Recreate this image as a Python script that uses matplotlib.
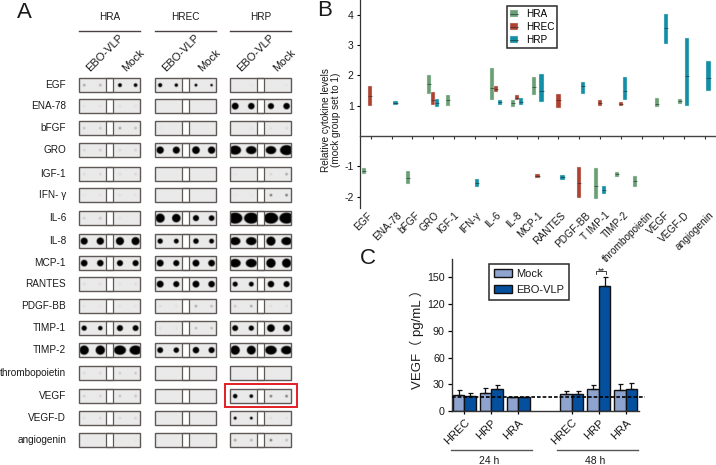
import numpy as np
import matplotlib
matplotlib.use('Agg')
import matplotlib.pyplot as plt
from matplotlib.lines import Line2D
from matplotlib.patches import Patch, Rectangle
from matplotlib.legend_handler import HandlerTuple

plt.rcParams['font.family'] = ['Liberation Sans', 'Noto Sans CJK SC', 'DejaVu Sans']

W, H = 716, 465

# panel A: dot signal per row, 4 dots per cell line (below 1 = faint spot, from 1 up = black dot radius)
cytokines = ['EGF', 'ENA-78', 'bFGF', 'GRO', 'IGF-1', 'IFN- γ', 'IL-6', 'IL-8', 'MCP-1', 'RANTES',
             'PDGF-BB', 'TIMP-1', 'TIMP-2', 'thrombopoietin', 'VEGF', 'VEGF-D', 'angiogenin']
blot_hra = [[.35, .3, 1.9, 1.8], [.05, .05, .06, .06], [.2, .2, .4, .25], [.12, .18, .1, .12],
            [.08, .1, .08, .1], [.03, .05, .05, .05], [.15, .2, .05, 0], [3.5, 3.6, 4, 4],
            [3.3, 3.2, 3, 3], [.08, .06, .05, .08], [.05, .03, .05, .05], [2.6, 2.2, 3, 2.9],
            [4.6, 4.6, 5.6, 5.6], [.1, .1, .15, .18], [.15, .12, .2, .2], [.06, .1, .1, .12],
            [0, 0, .02, .03]]
blot_hrec = [[2, 1.7, 1.4, 1.2], [0, 0, 0, 0], [.03, 0, 0, 0], [3.6, 3.5, 3.8, 3.6],
             [0, 0, 0, 0], [0, 0, 0, 0], [4.5, 4.2, 3, 2.8], [2.6, 2.4, 2.7, 2.4],
             [3.4, 3, 3.4, 3.3], [3.4, 3, 3.4, 3.2], [.08, .05, .35, .25], [.06, .04, .25, .25],
             [2.9, 2.7, 3.2, 3], [0, 0, 0, 0], [0, 0, 0, 0], [0, 0, 0, 0], [0, 0, 0, 0]]
blot_hrp = [[0, .03, 0, .03], [3.4, 3.2, 3, 3.2], [0, .05, .05, .1], [5.5, 5, 5, 6],
            [.03, 0, .1, .35], [.03, .03, .6, .6], [6.5, 6.5, 6.5, 6.5], [5, 5, 4.5, 5],
            [5.2, 5.2, 4.6, 4.5], [2.5, 2.4, 3.2, 3], [.2, .35, .06, .08], [2.9, 2.6, 3.8, 3.5],
            [4.6, 4.4, 5.4, 5.2], [0, 0, 0, 0], [2.2, 1.8, .6, .6], [1.5, 1.4, .06, .06],
            [.4, .3, .6, .25]]

# panel B: floating boxes, (category index, low, median, high)
b_labels = ['EGF', 'ENA-78', 'bFGF', 'GRO', 'IGF-1', 'IFN-γ', 'IL-6', 'IL-8', 'MCP-1', 'RANTES',
            'PDGF-BB', 'T IMP-1', 'TIMP-2', 'thrombopoietin', 'VEGF', 'VEGF-D', 'angiogenin']
hra_boxes = [(0, -1.27, -1.15, -1.05), (2, -1.6, -1.4, -1.14), (3, 1.4, 1.72, 2.02), (4, 1.0, 1.18, 1.34),
             (6, 1.2, 1.57, 2.25), (7, .97, 1.1, 1.2), (8, 1.34, 1.62, 1.96), (11, -2.07, -1.66, -1.07),
             (12, -1.35, -1.26, -1.18), (13, -1.67, -1.5, -1.32), (14, .97, 1.05, 1.24), (15, 1.05, 1.14, 1.23)]
hrec_boxes = [(0, 1.0, 1.33, 1.66), (3, 1.02, 1.2, 1.44), (6, 1.46, 1.55, 1.64), (7, 1.2, 1.27, 1.34),
              (8, -1.39, -1.33, -1.27), (9, .92, 1.2, 1.38), (10, -2.03, -1.56, -1.01), (11, 1.0, 1.1, 1.2),
              (12, 1.0, 1.05, 1.11)]
hrp_boxes = [(1, 1.04, 1.1, 1.16), (3, .97, 1.1, 1.22), (5, -1.68, -1.55, -1.43), (6, 1.03, 1.12, 1.2),
             (7, 1.03, 1.13, 1.24), (8, 1.11, 1.47, 2.04), (9, -1.44, -1.36, -1.29), (10, 1.38, 1.65, 1.77),
             (11, -1.91, -1.77, -1.64), (12, 1.18, 1.47, 1.96), (14, 3.05, 3.55, 4.04), (15, 1.0, 1.97, 3.24),
             (16, 1.48, 1.9, 2.48)]

# panel C
c_groups = ['HREC', 'HRP', 'HRA', 'HREC', 'HRP', 'HRA']
mock_vals = [18, 20, 16, 19, 25, 24]
mock_err = [6, 6, 0, 4, 4, 7]
ebo_vals = [17, 25, 16, 19, 140, 25]
ebo_err = [3, 4, 0, 4, 10, 7]
baseline = 16

fig = plt.figure(figsize=(W / 100, H / 100), dpi=100)


def px_axes(left, top, right, bottom, **kw):
    return fig.add_axes([left / W, 1 - bottom / H, (right - left) / W, (bottom - top) / H], **kw)


# page axes in pixels, holds panel A and the panel letters
page = px_axes(0, 0, W, H)
page.set_axis_off()

row_y = [85, 106, 128, 150, 174, 195, 218, 241, 263, 284, 306, 328, 350, 373, 396, 418, 440]
box_left = {'HRA': 78.5, 'HREC': 154.5, 'HRP': 229.5}
box_w, box_h = 61.5, 14
gap_x, gap_w = 27, 7.5
dot_x = [5, 21, 40.5, 56]
edge_col = '#5e5856'
text_col = '#1a1a1a'
yy, xx = np.mgrid[0:box_h * 4, 0:int(box_w * 4)]


def blot_image(signals):
    # soft round spots on a light grey strip
    img = np.full(xx.shape, 0.915)
    for dx, s in zip(dot_x, signals):
        if s == 0:
            continue
        radius = 1.3 if s < 1 else s
        strength = 0.8 * s if s < 1 else 1.0
        dist = np.hypot(xx / 4 - dx, yy / 4 - box_h / 2)
        if s > 4.9:
            # big spots smear sideways and flatten against the strip
            radius = s - 1.0
            dist = np.hypot((xx / 4 - dx) / 1.3, yy / 4 - box_h / 2)
        blob = np.clip((radius + 0.6 - dist) / 1.2, 0, 1)
        img = np.minimum(img, 0.915 - 0.91 * strength * blob)
    return np.clip(img, 0, 1)


for name, rows in [('HRA', blot_hra), ('HREC', blot_hrec), ('HRP', blot_hrp)]:
    x0 = box_left[name]
    for y, signals in zip(row_y, rows):
        page.imshow(blot_image(signals), cmap='gray', vmin=0, vmax=1, aspect='auto',
                    extent=(x0, x0 + box_w, y + box_h / 2, y - box_h / 2), interpolation='bilinear')
        page.add_patch(Rectangle((x0 + gap_x, y - box_h / 2), gap_w, box_h, fc='white', ec=edge_col, lw=0.9, zorder=3))
        page.add_patch(Rectangle((x0, y - box_h / 2), box_w, box_h, fc='none', ec=edge_col, lw=1.0, zorder=3))
    page.plot([x0, x0 + box_w], [31, 31], color='#4a4240', lw=1.0)
    page.text(x0 + 31, 17.5, name, ha='center', va='center', fontsize=7.2, color=text_col)
    page.text(x0 + 13, 73, 'EBO-VLP', rotation=45, ha='left', va='bottom', rotation_mode='anchor',
              fontsize=8, color=text_col)
    page.text(x0 + 49, 73, 'Mock', rotation=45, ha='left', va='bottom', rotation_mode='anchor',
              fontsize=8, color=text_col)

for y, label in zip(row_y, cytokines):
    page.text(66, y - 0.5, label, ha='right', va='center', fontsize=7.2, color=text_col)

page.add_patch(Rectangle((224.5, 384), 72.5, 23, fc='none', ec='#e31e26', lw=1.4, zorder=4))
page.text(16.5, 13, 'A', fontsize=16, ha='left', va='center', color=text_col)
page.text(317, 10, 'B', fontsize=16, ha='left', va='center', color=text_col)
page.text(360, 258, 'C', fontsize=16, ha='left', va='center', color=text_col)
page.plot([451, 531.7], [450, 450], color='#555555', lw=1.0)
page.plot([557, 638], [450, 450], color='#555555', lw=1.0)
page.text(489, 460.5, '24 h', ha='center', va='center', fontsize=7.5, color=text_col)
page.text(595, 460.5, '48 h', ha='center', va='center', fontsize=7.5, color=text_col)
page.set_xlim(0, W)
page.set_ylim(H, 0)

# panel B
ax_b = px_axes(360, 0, 716, 208)
ax_b.patch.set_alpha(0)
ax_b.set_xlim(-0.51, 16.55)
ax_b.set_ylim(-2.376, 4.49)

series_b = [('HRA', hra_boxes, '#6a9f76', -0.19), ('HREC', hrec_boxes, '#b0402f', 0.0), ('HRP', hrp_boxes, '#128fa6', 0.19)]
# a few boxes sit off the regular dodge in the figure
nudge = {('HRA', 0): -0.11, ('HRA', 4): -0.11, ('HRA', 13): -0.16, ('HRA', 14): -0.07,
         ('HREC', 0): -0.05, ('HRP', 5): -0.08, ('HRP', 14): -0.05, ('HRP', 15): -0.04}
bw_b = 0.2
for name, boxes, colour, dodge in series_b:
    for cat, low, med, high in boxes:
        xpos = cat + dodge + nudge.get((name, cat), 0)
        ax_b.bar(xpos, high - low, bottom=low, width=bw_b, color=colour, edgecolor='#dfe8e2', linewidth=0.3, zorder=2)
        ax_b.hlines(med, xpos - bw_b / 2, xpos + bw_b / 2, color='#1c2a2a', lw=0.4, zorder=3)

for side in ['top', 'right']:
    ax_b.spines[side].set_visible(False)
ax_b.spines['bottom'].set_position(('data', 0))
ax_b.spines['bottom'].set_color('#444444')
ax_b.spines['bottom'].set_linewidth(1.0)
ax_b.spines['left'].set_color('#333333')
ax_b.spines['left'].set_linewidth(0.9)
ax_b.set_xticks(range(17))
ax_b.set_xticklabels([])
ax_b.tick_params(axis='x', length=2.2, width=0.8, color='#333333', direction='out')
ax_b.set_yticks([-2, -1, 1, 2, 3, 4])
ax_b.tick_params(axis='y', length=2.5, width=0.8, labelsize=7.5, pad=2, labelcolor=text_col)
ax_b.set_yticklabels(['-2', '-1', '1', '2', '3', '4'])

# small shifts of the slanted labels along the axis, as drawn
label_shift = [-.16, .27, .13, .03, 0, .03, 0, .03, .03, .08, .27, .24, .11, .3, .11, .06, .18]
for i, label in enumerate(b_labels):
    ax_b.annotate(label, xy=(i + label_shift[i], 0), xycoords=('data', 'axes fraction'), xytext=(0, -1.5),
                  textcoords='offset points', rotation=45, ha='right', va='top', rotation_mode='anchor',
                  fontsize=7.3, color=text_col, annotation_clip=False)
page.text(331, 120, 'Relative cytokine levels\n(mock group set to 1)', rotation=90, ha='center', va='center',
          fontsize=7.2, linespacing=1.05, color=text_col)

handles_b = [(Patch(fc=c, ec='#dfe8e2', lw=0.3), Line2D([0], [0], color='#1c2a2a', lw=0.4)) for _, _, c, _ in series_b]
leg_b = ax_b.legend(handles_b, [s[0] for s in series_b], handler_map={tuple: HandlerTuple(ndivide=1, pad=0)},
                    loc='center', bbox_to_anchor=(532.2 / W, 1 - 27.2 / H), bbox_transform=fig.transFigure,
                    fontsize=7.2, fancybox=False, framealpha=1, edgecolor='#2a2a2a', handlelength=0.85,
                    handleheight=0.7, handletextpad=0.75, labelspacing=0.3, borderpad=0.3, borderaxespad=0)
leg_b.get_frame().set_linewidth(1.1)

# panel C
ax_c = px_axes(451.7, 259.3, 645, 411.3)
ax_c.patch.set_alpha(0)
x_pos = np.array([0, 1, 2, 4, 5, 6])
bar_w = 0.43
ax_c.set_xlim(-0.47, 6.72)
ax_c.set_ylim(0, 170)
err_kw = dict(ecolor='#111111', elinewidth=0.9, capsize=1.8, capthick=0.9)
ax_c.bar(x_pos - bar_w / 2, mock_vals, bar_w, color='#8fa3cf', edgecolor='#111111', linewidth=1.0,
         yerr=[np.zeros(6), mock_err], error_kw=err_kw, label='Mock', zorder=2)
ax_c.bar(x_pos + bar_w / 2, ebo_vals, bar_w, color='#04509f', edgecolor='#111111', linewidth=1.0,
         yerr=[np.zeros(6), ebo_err], error_kw=err_kw, label='EBO-VLP', zorder=2)
ax_c.plot([-0.45, 6.72], [baseline, baseline], color='black', lw=1.2, ls=(0, (2.2, 1.2)), zorder=3, clip_on=False)

# significance bracket
ax_c.plot([4.9, 4.9, 5.27, 5.27], [154, 157, 157, 154], color='#222222', lw=0.6)
ax_c.text(5.08, 157, '**', ha='center', va='center', fontsize=6.5, color='#222222')

for side in ['top', 'right']:
    ax_c.spines[side].set_visible(False)
ax_c.spines['bottom'].set_bounds(-0.47, 6.48)
ax_c.spines['left'].set_linewidth(1.0)
ax_c.spines['bottom'].set_linewidth(1.0)
ax_c.spines['left'].set_color('#333333')
ax_c.spines['bottom'].set_color('#333333')
ax_c.set_yticks(range(0, 151, 30))
ax_c.tick_params(axis='y', length=3, width=0.9, labelsize=7.7, pad=2, labelcolor=text_col)
ax_c.set_xticks(x_pos)
ax_c.set_xticklabels(c_groups, rotation=45, ha='right', va='top', rotation_mode='anchor', fontsize=8, color=text_col)
ax_c.tick_params(axis='x', length=2.5, width=0.9, pad=2)
page.text(416.5, 336, 'VEGF（ pg/mL ）', rotation=90, ha='center', va='center', fontsize=9.5, color=text_col)

leg_c = ax_c.legend(loc='center', bbox_to_anchor=(529.2 / W, 1 - 282 / H), bbox_transform=fig.transFigure,
                    fontsize=8, fancybox=False, framealpha=1, edgecolor='#2a2a2a', handlelength=1.6,
                    handleheight=0.7, handletextpad=0.35, labelspacing=0.55, borderpad=0.45, borderaxespad=0)
leg_c.get_frame().set_linewidth(1.1)
for t in leg_c.get_texts():
    t.set_color(text_col)

fig.savefig('out.png', dpi=100)
